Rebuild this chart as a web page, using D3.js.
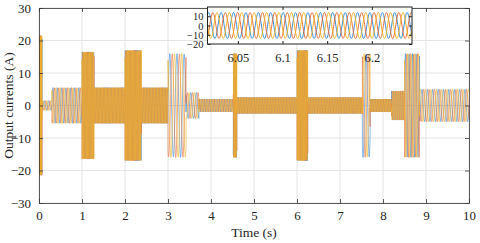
<!DOCTYPE html>
<html>
<head>
<meta charset="utf-8">
<script src="https://cdn.jsdelivr.net/npm/d3@7"></script>
<style>
  body { margin: 0; background: #fff; }
</style>
</head>
<body>
<div class="canvas"></div>
<script>
// Operating segments: start/end time (s), peak current (A), apparent frequency (Hz)
const segStart = [0.00, 0.07, 0.30, 1.00, 1.28, 2.00, 2.38, 3.00, 3.42, 3.72, 4.52, 4.60, 6.00, 6.25, 7.52, 7.70, 8.20, 8.50, 8.85];
const segEnd   = [0.07, 0.30, 1.00, 1.28, 2.00, 2.38, 3.00, 3.42, 3.72, 4.52, 4.60, 6.00, 6.25, 7.52, 7.70, 8.20, 8.50, 8.85, 10.0];
const segAmp   = [21.5, 1.5, 5.5, 16.5, 5.5, 17, 5.5, 16, 4, 2, 16, 2.5, 17, 2.5, 16, 2, 4.5, 16, 5];
const segFreq  = [60, 10, 10, 34, 31, 34, 29, 6, 8, 17, 40, 27, 36, 27, 7, 27, 21, 12, 8];

const phaseNames = ["a", "b", "c"];
const phaseShift = [0, -2 * Math.PI / 3, 2 * Math.PI / 3];
const phaseColors = ["#3a8dd2", "#e2703f", "#f0b42c"];

// Inset (zoom around 6.0 - 6.25 s)
const insetRange = [6.016, 6.245];
const insetAmp = 14;
const insetFreq = 72;

const xTicks = [0, 1, 2, 3, 4, 5, 6, 7, 8, 9, 10];
const yTicks = [-30, -20, -10, 0, 10, 20, 30];
const insetXTicks = [6.05, 6.1, 6.15, 6.2];
const insetYTicks = [-20, -10, 0, 10];

const dims = { width: 480, height: 243 };
const plot = { left: 39, right: 469, top: 8, bottom: 203 };
const ins = { left: 207.5, right: 412, top: 7, bottom: 44 };
const serif = '"Liberation Serif", "Times New Roman", Times, serif';

const svg = d3
  .select(".canvas")
  .append("svg")
  .attr("width", dims.width)
  .attr("height", dims.height)
  .style("font-family", serif);

const x = d3.scaleLinear().domain([0, 10]).range([plot.left, plot.right]);
const y = d3.scaleLinear().domain([-30, 30]).range([plot.bottom, plot.top]);

// grid
svg.append("g")
  .selectAll("line")
  .data(xTicks)
  .join("line")
  .attr("x1", (d) => x(d)).attr("x2", (d) => x(d))
  .attr("y1", plot.top).attr("y2", plot.bottom)
  .attr("stroke", "#e4e4e4");
svg.append("g")
  .selectAll("line")
  .data(yTicks)
  .join("line")
  .attr("x1", plot.left).attr("x2", plot.right)
  .attr("y1", (d) => y(d)).attr("y2", (d) => y(d))
  .attr("stroke", "#e4e4e4");

// waveform samples for one phase
const wave = (k) => {
  const pts = [];
  segStart.forEach((t0, i) => {
    const t1 = segEnd[i];
    const n = Math.ceil((t1 - t0) * segFreq[i] * 16) + 1;
    for (let j = 0; j <= n; j++) {
      const t = t0 + (t1 - t0) * j / n;
      pts.push([t, segAmp[i] * Math.sin(2 * Math.PI * segFreq[i] * t + phaseShift[k])]);
    }
  });
  return pts;
};

svg.append("clipPath").attr("id", "clipMain")
  .append("rect")
  .attr("x", plot.left).attr("y", plot.top)
  .attr("width", plot.right - plot.left).attr("height", plot.bottom - plot.top);

const line = d3.line().x((d) => x(d[0])).y((d) => y(d[1]));

svg.append("g")
  .attr("clip-path", "url(#clipMain)")
  .selectAll("path")
  .data(phaseNames)
  .join("path")
  .attr("d", (d, k) => line(wave(k)))
  .attr("fill", "none")
  .attr("stroke", (d, k) => phaseColors[k])
  .attr("stroke-width", 0.6);

// axes (ticks pointing in, box all round)
svg.append("g")
  .attr("transform", `translate(0,${plot.bottom})`)
  .call(d3.axisBottom(x).tickValues(xTicks).tickSizeInner(-4).tickSizeOuter(0).tickPadding(8));
svg.append("g")
  .attr("transform", `translate(${plot.left},0)`)
  .call(d3.axisLeft(y).tickValues(yTicks).tickSizeInner(-4).tickSizeOuter(0).tickPadding(8));
svg.append("g")
  .attr("transform", `translate(0,${plot.top})`)
  .call(d3.axisTop(x).tickValues(xTicks).tickSizeInner(-4).tickSizeOuter(0).tickFormat(""));
svg.append("g")
  .attr("transform", `translate(${plot.right},0)`)
  .call(d3.axisRight(y).tickValues(yTicks).tickSizeInner(-4).tickSizeOuter(0).tickFormat(""));

svg.selectAll(".domain, .tick line").attr("stroke", "#333").attr("stroke-width", 0.8);
svg.selectAll(".tick text").style("font-size", "13px");

svg.append("text")
  .attr("x", (plot.left + plot.right) / 2)
  .attr("y", 237)
  .attr("text-anchor", "middle")
  .style("font-size", "13.5px")
  .text("Time (s)");

svg.append("text")
  .attr("transform", `translate(13,${(plot.top + plot.bottom) / 2}) rotate(-90)`)
  .attr("text-anchor", "middle")
  .style("font-size", "13.5px")
  .text("Output currents (A)");

// inset
const xi = d3.scaleLinear().domain(insetRange).range([ins.left, ins.right]);
const yi = d3.scaleLinear().domain([-20, 20]).range([ins.bottom, ins.top]);

const inset = svg.append("g");
inset.append("rect")
  .attr("x", ins.left).attr("y", ins.top)
  .attr("width", ins.right - ins.left).attr("height", ins.bottom - ins.top)
  .attr("fill", "#fff");

svg.append("clipPath").attr("id", "clipInset")
  .append("rect")
  .attr("x", ins.left).attr("y", ins.top)
  .attr("width", ins.right - ins.left).attr("height", ins.bottom - ins.top);

const insetWave = (k) => {
  const n = 600;
  return d3.range(n + 1).map((j) => {
    const t = insetRange[0] + (insetRange[1] - insetRange[0]) * j / n;
    return [t, insetAmp * Math.sin(2 * Math.PI * insetFreq * t + phaseShift[k])];
  });
};
const lineI = d3.line().x((d) => xi(d[0])).y((d) => yi(d[1]));

inset.append("g")
  .attr("clip-path", "url(#clipInset)")
  .selectAll("path")
  .data(phaseNames)
  .join("path")
  .attr("d", (d, k) => lineI(insetWave(k)))
  .attr("fill", "none")
  .attr("stroke", (d, k) => phaseColors[k])
  .attr("stroke-width", 1);

inset.append("g")
  .attr("class", "ix")
  .attr("transform", `translate(0,${ins.bottom})`)
  .call(d3.axisBottom(xi).tickValues(insetXTicks).tickSizeInner(-3).tickSizeOuter(0).tickPadding(9)
    .tickFormat(d3.format("")));
inset.append("g")
  .attr("class", "iy")
  .attr("transform", `translate(${ins.left},0)`)
  .call(d3.axisLeft(yi).tickValues(insetYTicks).tickSizeInner(-3).tickSizeOuter(0).tickPadding(4));
inset.append("g")
  .attr("transform", `translate(0,${ins.top})`)
  .call(d3.axisTop(xi).tickValues(insetXTicks).tickSizeInner(-3).tickSizeOuter(0).tickFormat(""));
inset.append("g")
  .attr("transform", `translate(${ins.right},0)`)
  .call(d3.axisRight(yi).tickValues(insetYTicks).tickSizeInner(-3).tickSizeOuter(0).tickFormat(""));
inset.append("rect")
  .attr("x", ins.left).attr("y", ins.top)
  .attr("width", ins.right - ins.left).attr("height", ins.bottom - ins.top)
  .attr("fill", "none").attr("stroke", "#222").attr("stroke-width", 1);

inset.selectAll(".domain").remove();
inset.selectAll(".tick line").attr("stroke", "#222");
inset.selectAll(".ix .tick text").style("font-size", "12.5px");
inset.selectAll(".iy .tick text").style("font-size", "10.5px").attr("dy", "0.34em");

// serif everywhere, overriding d3's sans-serif default on axis groups
svg.selectAll("g").attr("font-family", null);
svg.selectAll("text")
  .attr("fill", "#262626")
  .attr("font-family", serif)
  .style("font-family", serif);
</script>
</body>
</html>
